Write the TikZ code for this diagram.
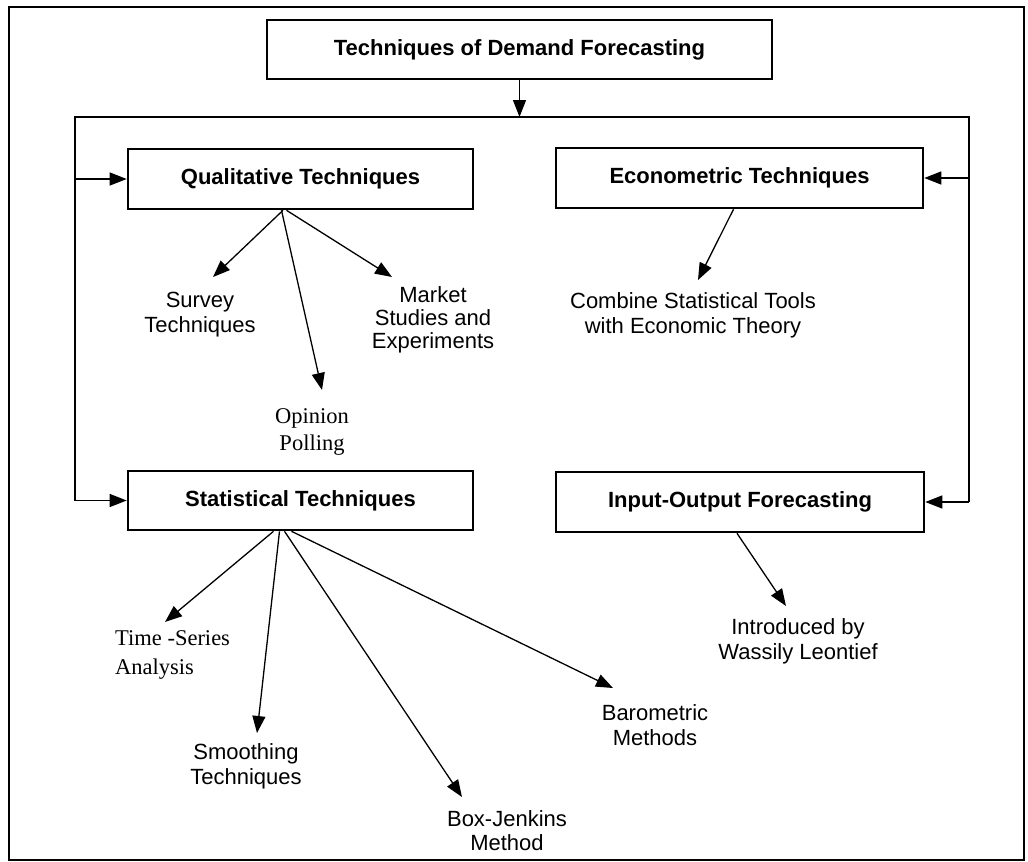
\documentclass[tikz,border=0pt]{standalone}
\usepackage{fontspec}
\setmainfont{Liberation Serif}
\newfontfamily\arialf{Liberation Sans}
\usetikzlibrary{arrows.meta}
\begin{document}
\begin{tikzpicture}[x=1pt,y=-1pt,
 box/.style={draw, line width=2.6pt, inner sep=0pt, font=\arialf\bfseries\fontsize{22}{26}\selectfont},
 lbl/.style={align=center, inner sep=0pt, font=\arialf\fontsize{22}{25}\selectfont},
 slbl/.style={inner sep=0pt, font=\fontsize{22.5}{29}\selectfont},
 arr/.style={line width=1.3pt, -{Triangle[length=17pt,width=13pt]}},
 bus/.style={line width=1.3pt}]
\useasboundingbox (0,0) rectangle (1028,862);
\fill[white] (0,0) rectangle (1028,862);
\draw[line width=2.2pt] (9,7) rectangle (1024,860);

% boxes
\node[box, minimum width=505pt, minimum height=59pt] (title) at (519.5,49.5) {Techniques of Demand Forecasting};
\node[box, minimum width=345pt, minimum height=60pt] (qual) at (300.5,179) {Qualitative Techniques};
\node[box, minimum width=367pt, minimum height=60pt] (econ) at (739.5,178) {Econometric Techniques};
\node[box, minimum width=345pt, minimum height=59pt] (stat) at (300.5,500.5) {Statistical Techniques};
\node[box, minimum width=368pt, minimum height=60pt] (io) at (740,502) {Input-Output Forecasting};

% bus
\coordinate (busL) at (75,117);
\coordinate (busR) at (969,117);
\draw[arr] (title.south) -- (title.south |- busL);
\draw[bus] (busL |- stat.west) -- (busL) -- (busR) -- (busR |- io.east);
\draw[arr] (busL |- qual.west) -- (qual.west);
\draw[arr] (busL |- stat.west) -- (stat.west);
\draw[arr] (busR |- econ.east) -- (econ.east);
\draw[arr] (busR |- io.east) -- (io.east);

% labels
\node[lbl] (survey) at (200,315) {Survey\\Techniques};
\node[lbl, font=\arialf\fontsize{22}{23}\selectfont] (market) at (433,320) {Market\\Studies and\\Experiments};
\node[slbl, align=center, font=\fontsize{22.5}{27}\selectfont] (opinion) at (312,432) {Opinion\\Polling};
\node[lbl] (combine) at (693,315) {Combine Statistical Tools\\with Economic Theory};
\node[slbl, align=left, anchor=west] (tseries) at (115,655) {Time -Series\\Analysis};
\node[lbl] (smooth) at (246,766) {Smoothing\\Techniques};
\node[lbl, font=\arialf\fontsize{22}{24}\selectfont] (boxj) at (507,831) {Box-Jenkins\\Method};
\node[lbl] (baro) at (655,725) {Barometric\\Methods};
\node[lbl] (intro) at (798,641) {Introduced by\\Wassily Leontief};

% arrow tips
\coordinate (tSurvey) at (213,277);
\coordinate (tOpinion) at (322,390);
\coordinate (tMarket) at (392,277);
\coordinate (tCombine) at (698,280);
\coordinate (tTS) at (165,622);
\coordinate (tSmooth) at (257,733);
\coordinate (tBJ) at (462,797);
\coordinate (tBaro) at (613,688);
\coordinate (tIntro) at (786,606);

\draw[arr] ([xshift=-17.5pt]qual.south) -- (tSurvey);
\draw[arr] ([xshift=-19pt]qual.south) -- (tOpinion);
\draw[arr] ([xshift=-14pt]qual.south) -- (tMarket);
\draw[arr] ([xshift=-6pt]econ.south) -- (tCombine);
\draw[arr] ([xshift=-27pt]stat.south) -- (tTS);
\draw[arr] ([xshift=-21pt]stat.south) -- (tSmooth);
\draw[arr] ([xshift=-16pt]stat.south) -- (tBJ);
\draw[arr] ([xshift=-9pt]stat.south) -- (tBaro);
\draw[arr] ([xshift=-3pt]io.south) -- (tIntro);
\end{tikzpicture}
\end{document}
